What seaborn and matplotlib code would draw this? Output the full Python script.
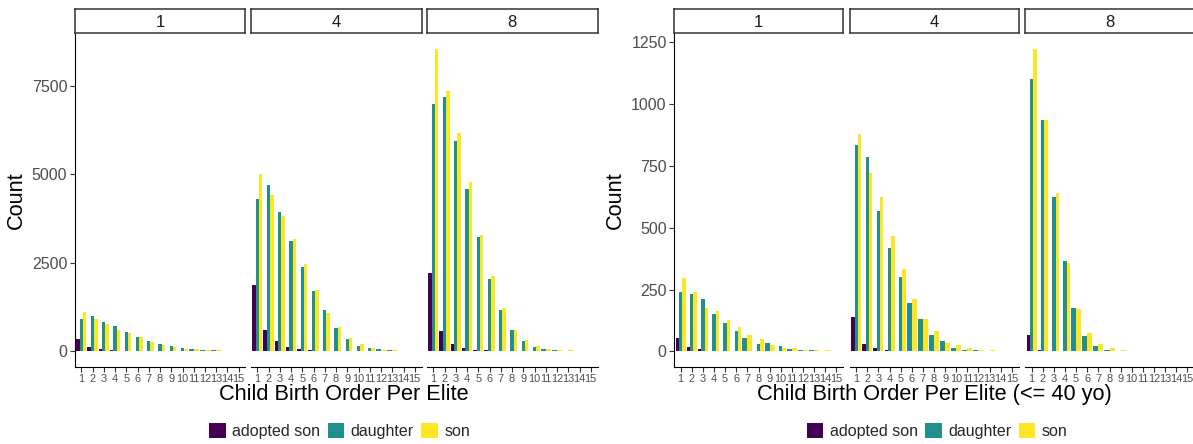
import numpy as np
import pandas as pd
import matplotlib
matplotlib.use("Agg")
import matplotlib.pyplot as plt
from matplotlib.patches import Patch
import seaborn as sns
import seaborn.objects as so

nan = np.nan

# ---------------- data ----------------
birth_order = list(range(1, 16))
facet_labels = ["1", "4", "8"]
child_types = ["adopted son", "daughter", "son"]
palette = {"adopted son": "#440154", "daughter": "#21908C", "son": "#FDE725"}

# left panel: all children
all_f1_adopted = [348, 122, 66, 38, 19, 9, 5, 3, 2, 1, nan, nan, nan, nan, nan]
all_f1_daughter = [912, 987, 836, 714, 554, 404, 291, 197, 150, 103, 66, 47, 38, 19, 9]
all_f1_son = [1109, 921, 780, 611, 517, 395, 273, 179, 122, 66, 56, 47, 28, 19, 9]

all_f4_adopted = [1870, 611, 282, 132, 66, 38, 19, 9, 5, 2, 1, nan, nan, nan, nan]
all_f4_daughter = [4305, 4690, 3938, 3120, 2387, 1701, 1156, 648, 357, 160, 94, 66, 28, 19, 9]
all_f4_son = [5010, 4417, 3825, 3167, 2453, 1729, 1081, 686, 376, 207, 103, 47, 38, 19, 9]

all_f8_adopted = [2218, 583, 197, 85, 47, 28, 9, 5, 3, 1, nan, nan, nan, nan, nan]
all_f8_daughter = [6974, 7190, 5940, 4568, 3233, 2030, 1175, 611, 301, 122, 66, 38, 19, 9, 3]
all_f8_son = [8543, 7359, 6156, 4784, 3289, 2133, 1212, 611, 320, 150, 66, 47, 28, 9, 5]

# right panel: elites <= 40 yo
y40_f1_adopted = [55, 18, 8, 1, 1, 1, nan, 1, nan, 1, nan, nan, nan, nan, nan]
y40_f1_daughter = [239, 234, 211, 153, 116, 81, 54, 31, 32, 20, 9, 5, 4, 1, 1]
y40_f1_son = [295, 240, 174, 162, 126, 100, 66, 49, 26, 15, 14, 5, 4, 5, 1]

y40_f4_adopted = [138, 28, 13, 4, 3, nan, nan, nan, nan, nan, nan, nan, nan, nan, nan]
y40_f4_daughter = [835, 788, 568, 420, 301, 196, 132, 66, 42, 15, 5, 5, 1, 1, 1]
y40_f4_son = [881, 722, 626, 467, 333, 212, 131, 82, 35, 26, 12, 7, 4, 1, 1]

y40_f8_adopted = [66, 5, 3, 3, nan, nan, nan, nan, nan, nan, nan, nan, nan, nan, nan]
y40_f8_daughter = [1102, 938, 626, 366, 174, 63, 23, 7, 1, nan, nan, nan, nan, nan, nan]
y40_f8_son = [1225, 936, 639, 359, 173, 73, 28, 13, 7, nan, nan, nan, nan, nan, nan]

left_title = "Child Birth Order Per Elite"
right_title = "Child Birth Order Per Elite (<= 40 yo)"
y_title = "Count"
left_yticks = [0, 2500, 5000, 7500]
right_yticks = [0, 250, 500, 750, 1000, 1250]


def make_df(adopted, daughter, son):
    rows = []
    for t, vals in zip(child_types, (adopted, daughter, son)):
        for x, v in zip(birth_order, vals):
            if not np.isnan(v):
                rows.append((x, t, v))
    return pd.DataFrame(rows, columns=["order", "type", "count"])


left_data = [
    make_df(all_f1_adopted, all_f1_daughter, all_f1_son),
    make_df(all_f4_adopted, all_f4_daughter, all_f4_son),
    make_df(all_f8_adopted, all_f8_daughter, all_f8_son),
]
right_data = [
    make_df(y40_f1_adopted, y40_f1_daughter, y40_f1_son),
    make_df(y40_f4_adopted, y40_f4_daughter, y40_f4_son),
    make_df(y40_f8_adopted, y40_f8_daughter, y40_f8_son),
]

# ---------------- style ----------------
sns.set_theme(style="ticks")
plt.rcParams["font.family"] = ["Liberation Sans", "DejaVu Sans"]

W, H = 1193, 444
fig = plt.figure(figsize=(W / 100, H / 100), dpi=100)
fig.patch.set_facecolor("white")

ax_top_px, ax_bot_px = 33.5, 366.5
strip_top_px = 9.5
FONT = ["Liberation Sans", "DejaVu Sans"]


def px_rect(x0, y0, x1, y1):
    return [x0 / W, (H - y1) / H, (x1 - x0) / W, (y1 - y0) / H]


theme = {
    "axes.facecolor": "white",
    "axes.grid": False,
    "axes.edgecolor": "black",
    "font.family": FONT,
}


def draw_panel(starts, width, datasets, yticks, ylim, title, title_x, ycenter_x, legend_x):
    axes = []
    for i, (x0, df) in enumerate(zip(starts, datasets)):
        ax = fig.add_axes(px_rect(x0, ax_top_px, x0 + width, ax_bot_px))
        (
            so.Plot(df, x="order", y="count", color="type")
            .add(so.Bar(width=0.9, alpha=1, edgewidth=0), so.Dodge(empty="fill"), legend=False)
            .scale(color=so.Nominal(palette, order=child_types), x=so.Continuous())
            .theme(theme)
            .on(ax)
            .plot()
        )
        ax.set_facecolor("white")
        ax.grid(False)
        ax.set_xlim(0.4, 15.6)
        ax.set_ylim(*ylim)
        ax.set_xticks(birth_order)
        ax.set_xticklabels([str(v) for v in birth_order], fontsize=7.9, color="#4D4D4D", family=FONT)
        ax.set_xlabel("")
        ax.set_ylabel("")
        for s in ["top", "right"]:
            ax.spines[s].set_visible(False)
        ax.spines["bottom"].set_color("black")
        ax.spines["bottom"].set_linewidth(0.8)
        ax.tick_params(axis="x", length=3.8, width=0.8, color="#333333", pad=1.5)
        if i == 0:
            ax.spines["left"].set_color("black")
            ax.spines["left"].set_linewidth(0.8)
            ax.set_yticks(yticks)
            ax.set_yticklabels([str(v) for v in yticks], fontsize=11.5, color="#4D4D4D", family=FONT)
            ax.tick_params(axis="y", length=3.8, width=0.8, color="#333333", pad=1.5)
        else:
            ax.spines["left"].set_visible(False)
            ax.set_yticks([])
        # strip
        sax = fig.add_axes(px_rect(x0, strip_top_px, x0 + width, ax_top_px))
        sax.set_xticks([])
        sax.set_yticks([])
        sax.set_facecolor("white")
        for s in sax.spines.values():
            s.set_visible(True)
            s.set_color("#333333")
            s.set_linewidth(1.1)
        sax.text(0.5, 0.47, facet_labels[i], ha="center", va="center", fontsize=12,
                 color="#1A1A1A", family=FONT, transform=sax.transAxes)
        axes.append(ax)
    fig.text(title_x / W, 1 - 394 / H, title, ha="center", va="center", fontsize=15.7,
             color="black", family=FONT)
    fig.text(ycenter_x / W, 1 - 200 / H, y_title, ha="center", va="center", rotation=90,
             fontsize=15.7, color="black", family=FONT)
    handles = [Patch(facecolor=palette[t], edgecolor="none", label=t) for t in child_types]
    fig.legend(handles=handles, loc="center", bbox_to_anchor=(legend_x / W, 1 - 431 / H),
               ncol=3, frameon=False, handlelength=1.04, handleheight=1.04,
               handletextpad=0.4, columnspacing=0.47, borderpad=0,
               prop={"family": FONT, "size": 11.5})
    return axes


draw_panel([74.5, 250.5, 426.5], 171, left_data, left_yticks, (-427, 8970),
           left_title, 343.5, 16, 339.5)
draw_panel([674, 849.5, 1025], 169, right_data, right_yticks, (-61.25, 1286.25),
           right_title, 934.5, 615, 937)

fig.savefig("out.png", dpi=100, facecolor="white")
